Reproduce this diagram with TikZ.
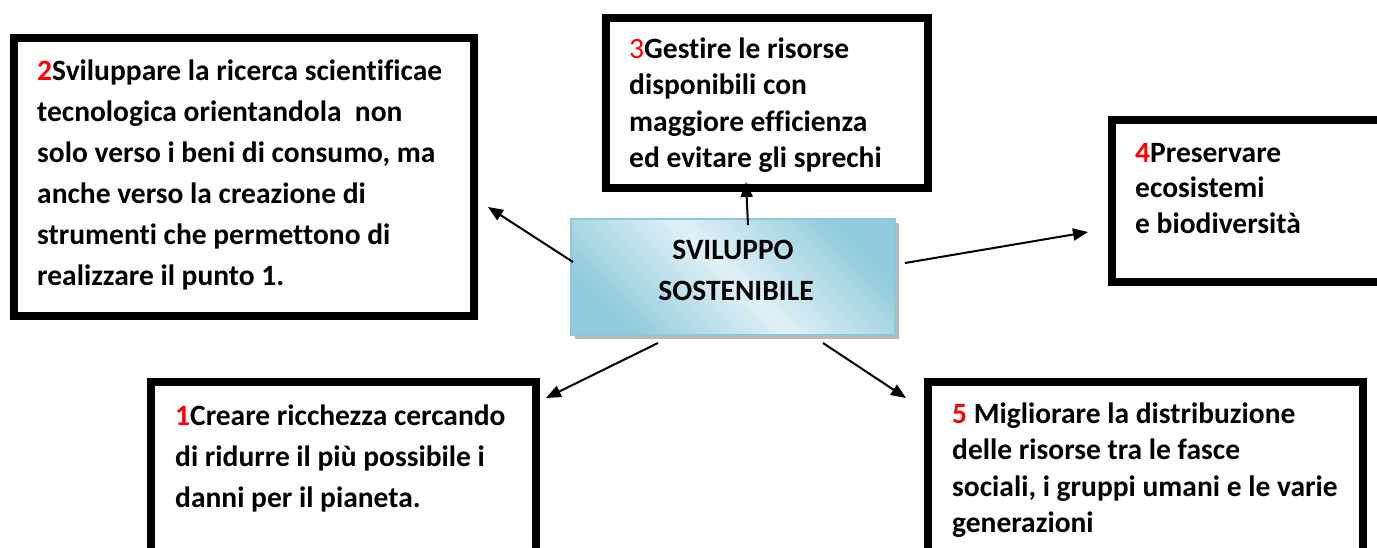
\documentclass[tikz,border=0pt]{standalone}
\usepackage{fontspec}
\setmainfont{Carlito}[RawFeature={-liga;-clig;-calt;-dlig}]
\usetikzlibrary{arrows.meta}
\definecolor{cdark}{RGB}{145,203,219}
\definecolor{clight}{RGB}{224,241,247}
\definecolor{cborder}{RGB}{140,200,216}
\definecolor{numred}{RGB}{255,0,0}
\newcommand{\boxlines}[2]{{\fontsize{29.5}{#1}\selectfont\bfseries\begin{tabular}[t]{@{}l@{}}#2\end{tabular}}}
\newcommand{\rn}[1]{\textcolor{numred}{#1}}
\begin{document}
\begin{tikzpicture}[x=1pt,y=-1pt,
  frame/.style={draw=black,line width=8pt,fill=white,inner sep=0pt,rectangle},
  txt/.style={anchor=base west,inner sep=0pt},
  arr/.style={line width=2pt,-{Triangle[length=15pt,width=12pt]}}]
\useasboundingbox (0,0) rectangle (1377,547);
\fill[white] (0,0) rectangle (1377,547);
% outer boxes
\node[frame,minimum width=460pt,minimum height=278pt] (b2) at (244,177) {};
\node[frame,minimum width=322pt,minimum height=170pt] (b3) at (767,103) {};
\node[frame,minimum width=278pt,minimum height=162pt] (b4) at (1251,201) {};
\node[frame,minimum width=385pt,minimum height=188pt] (b1) at (343.5,476) {};
\node[frame,minimum width=435pt,minimum height=188pt] (b5) at (1145.5,476) {};
% texts
\node[txt] (t2) at (37,80) {\boxlines{41}{\rn{2}Sviluppare la ricerca scientificae\\tecnologica orientandola\ \ non\\solo verso i beni di consumo, ma\\anche verso la creazione di\\strumenti che permettono di\\realizzare il punto 1.}};
\node[txt] (t3) at (629,58) {\boxlines{36.5}{{\mdseries\rn{3}}Gestire le risorse\\disponibili con\\maggiore efficienza\\ed evitare gli sprechi}};
\node[txt] (t4) at (1135,162) {\boxlines{35.5}{\rn{4}Preservare\\ecosistemi\\e biodiversità}};
\node[txt] (t1) at (175,425) {\boxlines{41}{\rn{1}Creare ricchezza cercando\\di ridurre il più possibile i\\danni per il pianeta.}};
\node[txt] (t5) at (952,423) {\boxlines{36.5}{\rn{5} Migliorare la distribuzione\\delle risorse tra le fasce\\sociali, i gruppi umani e le varie\\generazioni}};
% center box with shadow
\fill[gray!55] (575,223) rectangle (899,339);
\node[draw=cborder,line width=1.5pt,top color=cdark,bottom color=cdark,middle color=clight,shading angle=-45,
  minimum width=324pt,minimum height=116pt,inner sep=0pt] (c) at (733,277) {};
\node[anchor=base,inner sep=0pt,font=\fontsize{29.5}{41}\selectfont\bfseries] (ct1) at (733,259) {SVILUPPO};
\node[anchor=base,inner sep=0pt,font=\fontsize{29.5}{41}\selectfont\bfseries] (ct2) at (736,300) {SOSTENIBILE};
% arrows
\coordinate (s2) at (573,262); \coordinate (e2) at (488,207);
\coordinate (s3) at (748,225); \coordinate (e3) at (746,182);
\coordinate (s4) at (905,263); \coordinate (e4) at (1088,232);
\coordinate (s1) at (658,343); \coordinate (e1) at (546,398);
\coordinate (s5) at (823,343); \coordinate (e5) at (906,398);
\draw[arr] (s2) -- (e2);
\draw[arr] (s3) -- (e3);
\draw[arr] (s4) -- (e4);
\draw[arr] (s1) -- (e1);
\draw[arr] (s5) -- (e5);
\end{tikzpicture}
\end{document}
